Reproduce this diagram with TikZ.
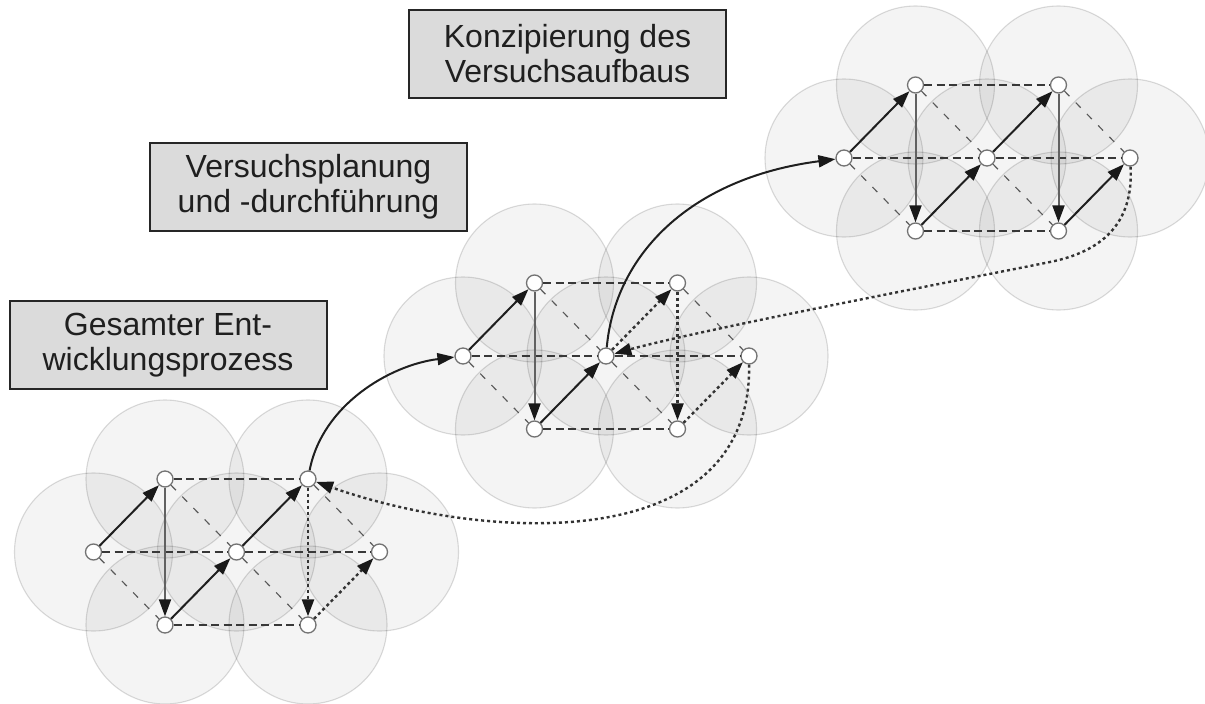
\documentclass[tikz,border=0pt]{standalone}
\usepackage{fontspec}
\setmainfont{Liberation Sans}
\usetikzlibrary{arrows.meta}
\pgfdeclarelayer{background}
\pgfsetlayers{background,main}

\tikzset{
  knot/.style={circle, minimum size=16pt, inner sep=0pt, fill=white, draw=black!55, line width=1.3pt},
  zone/.style={fill=black, fill opacity=0.045, draw=black, draw opacity=0.14, line width=1.1pt},
  rowline/.style={draw=black!78, line width=1.6pt, dash pattern=on 8pt off 4.5pt},
  diagline/.style={draw=black!65, line width=1.2pt, dash pattern=on 7pt off 9pt},
  flowtip/.style={-{Triangle[length=17pt,width=12pt,color=black!90]}},
  solidflow/.style={flowtip, draw=black!88, line width=2pt},
  greyflow/.style={flowtip, draw=black!62, line width=2pt},
  dottedflow/.style={flowtip, draw=black!80, line width=2.4pt, dash pattern=on 3pt off 3pt},
  phase/.style={rectangle, draw=black!85, line width=2pt, fill=black!14,
    minimum width=317pt, minimum height=88pt, inner sep=0pt, align=center,
    font=\fontsize{32}{35}\selectfont, text=black!88},
}

% seven knots of one lattice, their shaded zones and the dashed grid
\newcommand\lattice[3]{%
  \node[knot] (#1l)  at (#2,#3) {};
  \node[knot] (#1t1) at (#2+71.5,#3-73) {};
  \node[knot] (#1b1) at (#2+71.5,#3+73) {};
  \node[knot] (#1m)  at (#2+143,#3) {};
  \node[knot] (#1t2) at (#2+214.5,#3-73) {};
  \node[knot] (#1b2) at (#2+214.5,#3+73) {};
  \node[knot] (#1r)  at (#2+286,#3) {};
  \begin{pgfonlayer}{background}
    \foreach \k in {l,t1,b1,m,t2,b2,r}
      \path[zone] (#1\k) circle[radius=79pt];
  \end{pgfonlayer}
  \draw[rowline] (#1t1) -- (#1t2);
  \draw[rowline] (#1l) -- (#1m);
  \draw[rowline] (#1m) -- (#1r);
  \draw[rowline] (#1b1) -- (#1b2);
  \draw[diagline] (#1l) -- (#1b1);
  \draw[diagline] (#1t1) -- (#1m);
  \draw[diagline] (#1m) -- (#1b2);
  \draw[diagline] (#1t2) -- (#1r);
}

\begin{document}
\begin{tikzpicture}[x=1pt,y=-1pt]
  \useasboundingbox (0,0) rectangle (1205,704);

  % phase labels
  \node[phase] (p3) at (567.5,53.5) {Konzipierung des\\Versuchsaufbaus};
  \node[phase] (p2) at (308.5,187) {Versuchsplanung\\und -durchführung};
  \node[phase] (p1) at (168,345) {Gesamter Ent-\\wicklungsprozess};

  % three lattices
  \lattice{a}{93.5}{552}
  \lattice{b}{463}{356}
  \lattice{c}{844}{158}

  % overall development process
  \draw[solidflow] (al) -- (at1);
  \draw[greyflow] (at1) -- (ab1);
  \draw[solidflow] (ab1) -- (am);
  \draw[solidflow] (am) -- (at2);
  \draw[dottedflow] (at2) -- (ab2);
  \draw[dottedflow] (ab2) -- (ar);

  % test planning and execution
  \draw[solidflow] (bl) -- (bt1);
  \draw[greyflow] (bt1) -- (bb1);
  \draw[solidflow] (bb1) -- (bm);
  \draw[dottedflow] (bm) -- (bt2);
  \draw[dottedflow] (bt2) -- (bb2);
  \draw[dottedflow] (bb2) -- (br);

  % test setup design
  \draw[solidflow] (cl) -- (ct1);
  \draw[greyflow] (ct1) -- (cb1);
  \draw[solidflow] (cb1) -- (cm);
  \draw[solidflow] (cm) -- (ct2);
  \draw[greyflow] (ct2) -- (cb2);
  \draw[solidflow] (cb2) -- (cr);

  % transitions between the levels
  \draw[solidflow] (at2) .. controls (322,405) and (390,365) .. (bl);
  \draw[solidflow] (bm) .. controls (615,255) and (690,178) .. (cl);
  \draw[dottedflow] (br) .. controls (752,560) and (480,540) .. (at2);
  \draw[dottedflow] (cr) .. controls (1134,225) and (1100,252) .. (1050,262)
    .. controls (950,282) and (700,330) .. (bm);
\end{tikzpicture}
\end{document}
